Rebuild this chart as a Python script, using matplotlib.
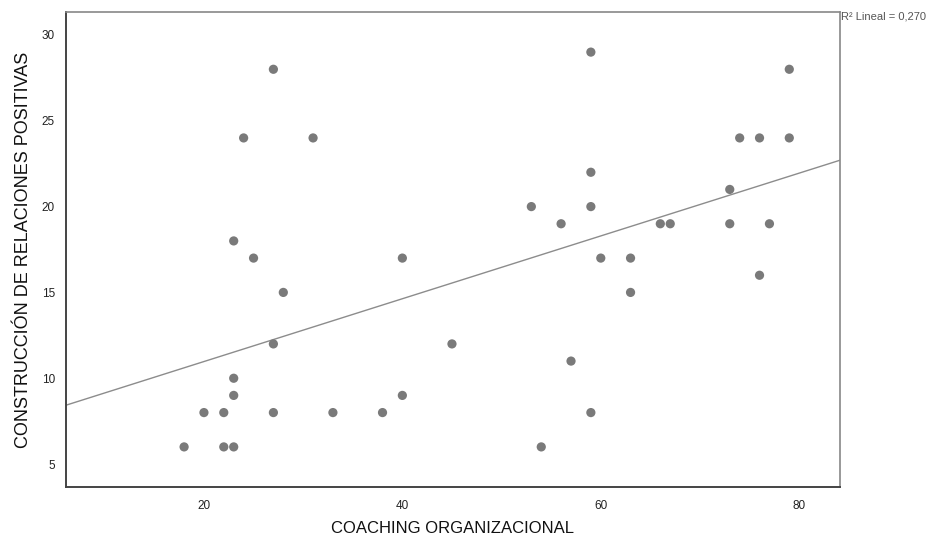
import matplotlib
matplotlib.use("Agg")
import matplotlib.pyplot as plt

plt.rcParams["font.family"] = ["Liberation Sans", "DejaVu Sans"]

# COACHING ORGANIZACIONAL vs CONSTRUCCIÓN DE RELACIONES POSITIVAS
coaching = [18, 20, 22, 22, 23, 23, 23, 23, 24, 25, 27, 27, 27, 28, 31, 33,
            38, 40, 40, 45, 53, 54, 56, 57, 59, 59, 59, 59, 60, 63, 63, 66,
            67, 73, 73, 74, 76, 76, 77, 79, 79]
relaciones = [6, 8, 8, 6, 6, 9, 10, 18, 24, 17, 28, 12, 8, 15, 24, 8,
              8, 17, 9, 12, 20, 6, 19, 11, 29, 22, 20, 8, 17, 17, 15, 19,
              19, 21, 19, 24, 24, 16, 19, 28, 24]
# linear fit line as shown (ends at the plot frame)
fit_x = [6.1, 84.1]
fit_y = [8.43, 22.7]
x_ticks = [20, 40, 60, 80]
y_ticks = [5, 10, 15, 20, 25, 30]
r2_label = "R\u00b2 Lineal = 0,270"

fig = plt.figure(figsize=(9.38, 5.43), dpi=100)
ax = fig.add_axes([0.0704, 0.103, 0.825, 0.875])

ax.scatter(coaching, relaciones, s=44, color="#7a7a7a", edgecolors="none", zorder=3)
ax.plot(fit_x, fit_y, color="#8c8c8c", linewidth=1.0, zorder=2)

ax.set_xlim(fit_x[0], fit_x[1])
ax.set_ylim(3.66, 31.34)
ax.set_xticks(x_ticks)
ax.set_yticks(y_ticks)
ax.tick_params(length=0, labelsize=8.5, colors="#222222")
ax.tick_params(axis="x", pad=9)
ax.tick_params(axis="y", pad=8)

for side in ("left", "bottom"):
    ax.spines[side].set_color("#444444")
    ax.spines[side].set_linewidth(1.4)
for side in ("top", "right"):
    ax.spines[side].set_color("#888888")
    ax.spines[side].set_linewidth(1.2)

ax.set_xlabel("COACHING ORGANIZACIONAL", fontsize=12, color="#111111", va="center")
ax.xaxis.set_label_coords(0.5, -0.088)
ax.set_ylabel("CONSTRUCCIÓN DE RELACIONES POSITIVAS", fontsize=13, color="#111111",
              va="center")
ax.yaxis.set_label_coords(-0.055, 0.5)

ax.text(1.002, 1.0, r2_label, transform=ax.transAxes, fontsize=8,
        color="#555555", ha="left", va="top")

fig.savefig("out.png", dpi=100)
